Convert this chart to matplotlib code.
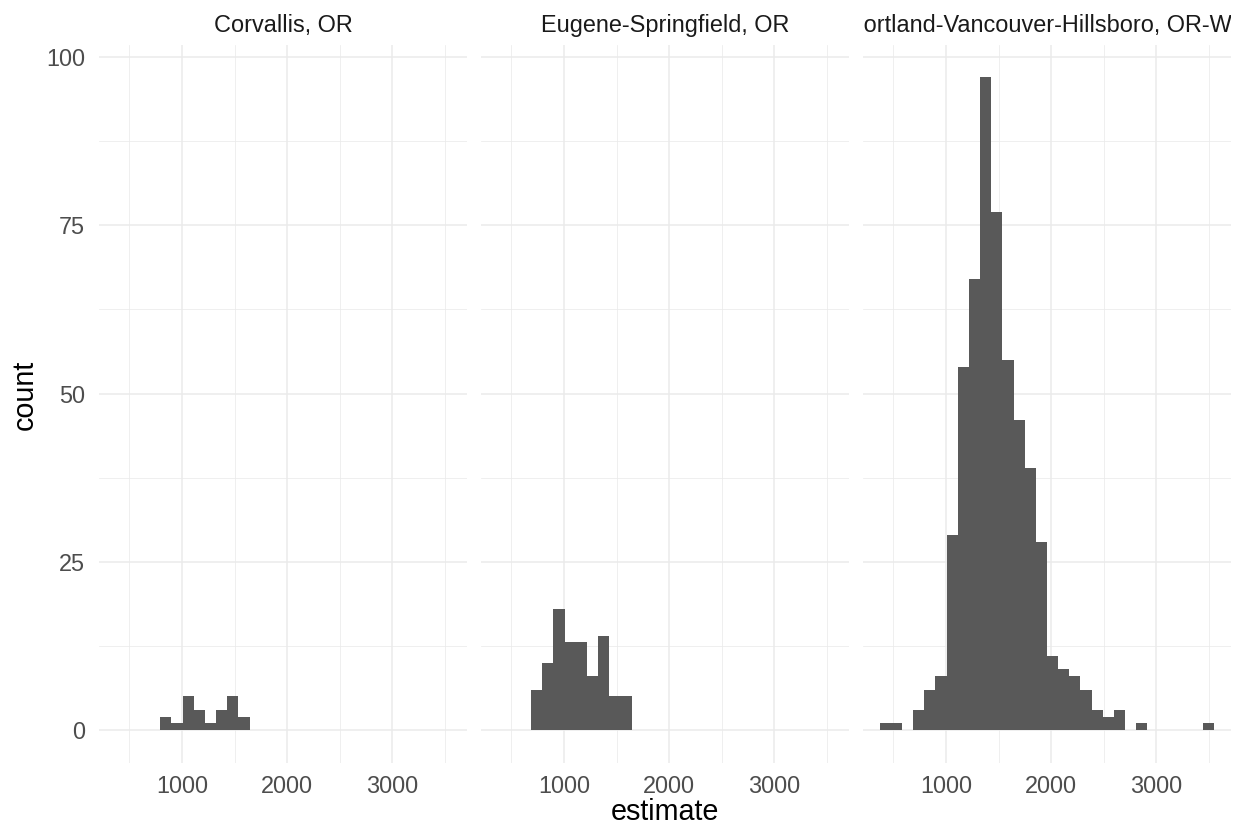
import numpy as np
import matplotlib.pyplot as plt

plt.rcParams['font.family'] = ['Liberation Sans', 'DejaVu Sans']

# facet names and histogram counts (30 bins, shared bin edges)
metros = ['Corvallis, OR', 'Eugene-Springfield, OR',
          'Portland-Vancouver-Hillsboro, OR-WA']
bin_start = 372
bin_width = 105.9
corvallis = [0, 0, 0, 0, 2, 1, 5, 3, 1, 3, 5, 2, 0, 0, 0,
             0, 0, 0, 0, 0, 0, 0, 0, 0, 0, 0, 0, 0, 0, 0]
eugene = [0, 0, 0, 6, 10, 18, 13, 13, 8, 14, 5, 5, 0, 0, 0,
          0, 0, 0, 0, 0, 0, 0, 0, 0, 0, 0, 0, 0, 0, 0]
portland = [1, 1, 0, 3, 6, 8, 29, 54, 67, 97, 77, 55, 46, 39, 28,
            11, 9, 8, 6, 3, 2, 3, 0, 1, 0, 0, 0, 0, 0, 1]
counts = [corvallis, eugene, portland]

x_major = [1000, 2000, 3000]
x_minor = [500, 1500, 2500, 3500]
y_major = [0, 25, 50, 75, 100]
y_minor = [12.5, 37.5, 62.5, 87.5]

W, H = 1240, 827
fig = plt.figure(figsize=(W / 100, H / 100), dpi=100)

panel_left = [99, 481, 863]
panel_w = 368
top, bottom = 44.6, 762.6

edges = bin_start + bin_width * np.arange(len(portland))
lo = bin_start
hi = bin_start + bin_width * len(portland)
pad = (hi - lo) * 0.05
ymax = max(max(c) for c in counts)

for i, (name, cnt) in enumerate(zip(metros, counts)):
    ax = fig.add_axes([panel_left[i] / W, (H - bottom) / H,
                       panel_w / W, (bottom - top) / H])
    ax.bar(edges, cnt, width=bin_width, align='edge', color='#595959',
           linewidth=0, zorder=3)
    ax.set_xlim(lo - pad, hi + pad)
    ax.set_ylim(-ymax * 0.05, ymax * 1.05)
    ax.set_xticks(x_major)
    ax.set_xticks(x_minor, minor=True)
    ax.set_yticks(y_major)
    ax.set_yticks(y_minor, minor=True)
    ax.grid(which='major', color='#EBEBEB', linewidth=1.1)
    ax.grid(which='minor', color='#EBEBEB', linewidth=0.55)
    ax.set_axisbelow(True)
    for s in ax.spines.values():
        s.set_visible(False)
    ax.tick_params(which='both', length=0, labelsize=16.9,
                   labelcolor='#4D4D4D')
    ax.tick_params(axis='x', pad=9)
    ax.tick_params(axis='y', pad=10)
    if i > 0:
        ax.tick_params(axis='y', labelleft=False)

    # facet strip; the long title is clipped at the panel edges
    sax = fig.add_axes([panel_left[i] / W, (H - top) / H,
                        panel_w / W, 38 / H])
    sax.axis('off')
    sax.set_xlim(0, 1)
    sax.set_ylim(0, 1)
    sax.text(0.5, 0.5, name, ha='center', va='center', fontsize=16.9,
             color='#1A1A1A', clip_on=True)

fig.text(665 / W, 1 - 820 / H, 'estimate', ha='center', va='baseline',
         fontsize=20.7)
fig.text(25 / W, 1 - 395 / H, 'count', ha='center', va='center',
         rotation=90, fontsize=20.7)

fig.savefig('out.png', dpi=100)
